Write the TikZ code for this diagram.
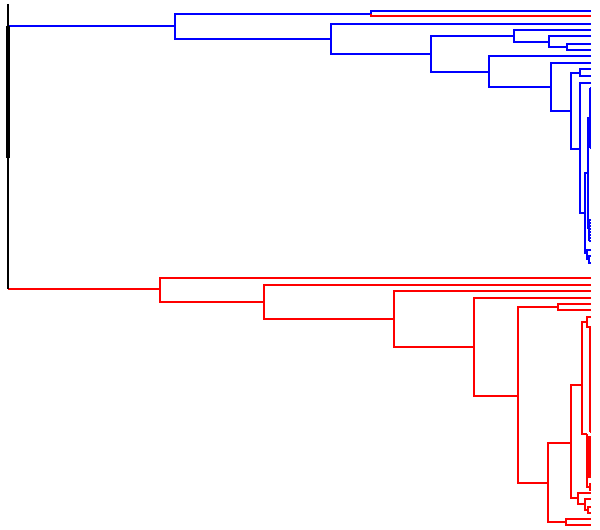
\documentclass[tikz,border=0pt]{standalone}
\usepackage{tikz}

\begin{document}
\begin{tikzpicture}[x=1bp, y=-1bp,
    blu/.style={draw=blue, line width=1.1bp},
    rd/.style={draw=red, line width=1.1bp},
    stem/.style={draw=black, line width=1.1bp}]

    \useasboundingbox (0,0) rectangle (600,530);

    % root
    \coordinate (top) at (8,4);
    \coordinate (bar) at (8,158);

    % blue cluster: merge points
    \coordinate (b0) at (175,26);
    \coordinate (b1) at (371,14);
    \coordinate (b2) at (331,39);
    \coordinate (b3) at (431,54);
    \coordinate (b4) at (514,36);
    \coordinate (b5) at (489,72);
    \coordinate (b6) at (549,42);
    \coordinate (b7) at (567,47);
    \coordinate (b8) at (551,87);
    \coordinate (b9) at (571,111);
    \coordinate (b10) at (580,73);
    \coordinate (b11) at (580,149);
    \coordinate (b13) at (585,213);
    \coordinate (c1) at (588,173);
    \coordinate (c2) at (587,253);
    \coordinate (d1) at (590,118);
    \coordinate (d2) at (589,228);
    \coordinate (f1) at (589,259);
    % blue cluster: leaves
    \coordinate (bl1) at (591,11);
    \coordinate (bl2) at (591,16);
    \coordinate (bl3) at (591,24);
    \coordinate (bl4) at (591,30);
    \coordinate (bl5) at (591,36);
    \coordinate (bl6) at (591,44);
    \coordinate (bl7) at (591,50);
    \coordinate (bl8) at (591,56);
    \coordinate (bl9) at (591,63);
    \coordinate (bl10) at (591,69);
    \coordinate (bl11) at (591,76);
    \coordinate (bl12) at (591,83);
    \coordinate (bl13) at (591,250);
    \coordinate (bl14) at (591,256);
    \coordinate (bl15) at (591,263);

    % red cluster: merge points
    \coordinate (r0) at (160,289);
    \coordinate (r1) at (264,302);
    \coordinate (r2) at (394,319);
    \coordinate (r3) at (474,347);
    \coordinate (r4) at (518,396);
    \coordinate (r5) at (558,307);
    \coordinate (r6) at (548,483);
    \coordinate (r7) at (571,443);
    \coordinate (r8) at (566,522);
    \coordinate (r9) at (582,385);
    \coordinate (r10) at (578,498);
    \coordinate (r11) at (585,504);
    \coordinate (r12) at (588,510);
    \coordinate (r13) at (587,322);
    \coordinate (r14) at (587,434);
    \coordinate (r15) at (590,327);
    \coordinate (r16) at (589,437);
    \coordinate (r17) at (590,487);
    % red cluster: leaves
    \coordinate (rl1) at (591,278);
    \coordinate (rl2) at (591,285);
    \coordinate (rl3) at (591,291);
    \coordinate (rl4) at (591,298);
    \coordinate (rl5) at (591,304);
    \coordinate (rl6) at (591,310);
    \coordinate (rl7) at (591,519);
    \coordinate (rl8) at (591,525);
    \coordinate (rl9) at (591,317);
    \coordinate (rl10) at (591,493);
    \coordinate (rl11) at (591,499);
    \coordinate (rl12) at (591,507);
    \coordinate (rl13) at (591,513);
    \coordinate (rl14) at (591,484);
    \coordinate (rl15) at (591,490);

    % root stem
    \draw[blu] (b0) -- (b0 -| top);
    \draw[rd] (r0) -- (r0 -| top);
    \draw[stem] (top) -- (top |- r0);
    \draw[line width=3.5bp] (top |- b0) -- (bar);

    % blue links
    \draw[blu] (b1) -| (b0) |- (b2);
    \draw[blu] (bl1) -| (b1);
    \draw[rd] (b1) |- (bl2);
    \draw[blu] (bl3) -| (b2) |- (b3);
    \draw[blu] (b4) -| (b3) |- (b5);
    \draw[blu] (bl4) -| (b4) |- (b6);
    \draw[blu] (bl5) -| (b6) |- (b7);
    \draw[blu] (bl6) -| (b7) |- (bl7);
    \draw[blu] (bl8) -| (b5) |- (b8);
    \draw[blu] (bl9) -| (b8) |- (b9);
    \draw[blu] (b10) -| (b9) |- (b11);
    \draw[blu] (bl10) -| (b10) |- (bl11);
    \draw[blu] (bl12) -| (b11) |- (b13);
    \draw[blu] (c1) -| (b13) |- (c2);
    \draw[blu] (d1) -| (c1) |- (d2);
    \draw[blu] (bl13) -| (c2) |- (f1);
    \draw[blu] (bl14) -| (f1) |- (bl15);
    % dense blue leaves
    \draw[blu] (590,88) -- (590,148);
    \foreach \y in {88,91,...,148}
        \draw[blu] (590,\y) -- (591,\y);
    \draw[blu] (589,220) -- (589,241);
    \foreach \y in {220,223,...,241}
        \draw[blu] (589,\y) -- (591,\y);

    % red links
    \draw[rd] (rl1) -| (r0) |- (r1);
    \draw[rd] (rl2) -| (r1) |- (r2);
    \draw[rd] (rl3) -| (r2) |- (r3);
    \draw[rd] (rl4) -| (r3) |- (r4);
    \draw[rd] (r5) -| (r4) |- (r6);
    \draw[rd] (rl5) -| (r5) |- (rl6);
    \draw[rd] (r7) -| (r6) |- (r8);
    \draw[rd] (rl7) -| (r8) |- (rl8);
    \draw[rd] (r9) -| (r7) |- (r10);
    \draw[rd] (r13) -| (r9) |- (r14);
    \draw[rd] (rl9) -| (r13) |- (r15);
    \draw[rd] (r16) -| (r14) |- (r17);
    \draw[rd] (rl14) -| (r17) |- (rl15);
    \draw[rd] (rl10) -| (r10) |- (r11);
    \draw[rd] (rl11) -| (r11) |- (r12);
    \draw[rd] (rl12) -| (r12) |- (rl13);
    % dense red leaves
    \draw[rd] (590,327) -- (590,432);
    \foreach \y in {327,330,...,432}
        \draw[rd] (590,\y) -- (591,\y);
    \draw[rd] (589,437) -- (589,478);
    \foreach \y in {437,439,...,478}
        \draw[rd] (589,\y) -- (591,\y);

\end{tikzpicture}
\end{document}
